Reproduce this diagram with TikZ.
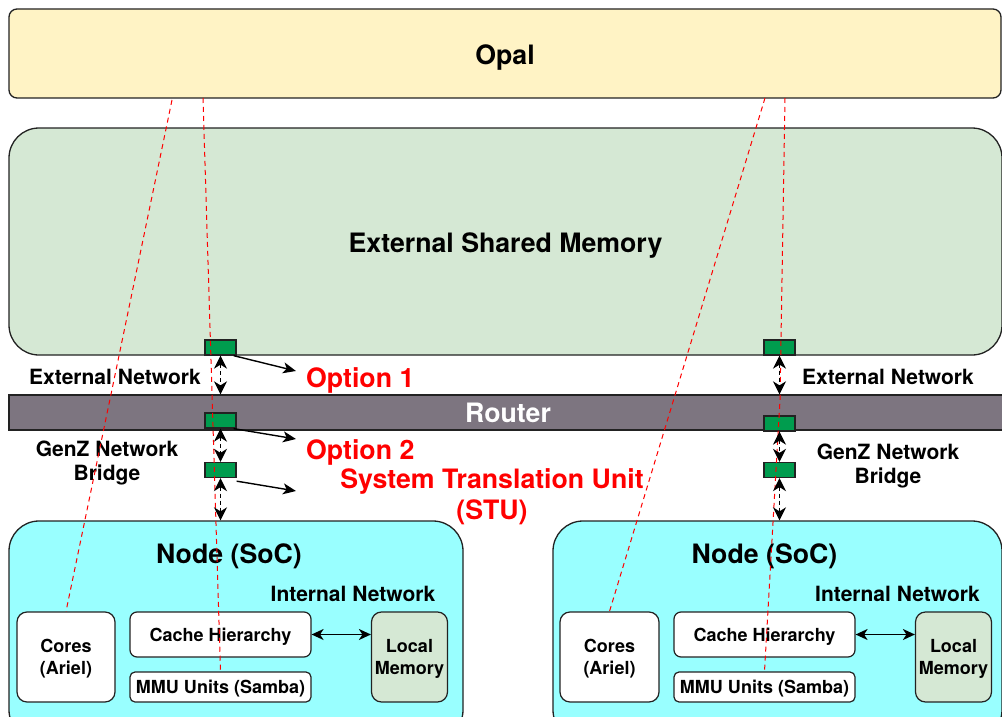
\documentclass[tikz,border=0pt]{standalone}
\usepackage{fontspec}
\setmainfont{TeX Gyre Heros}
\usetikzlibrary{arrows.meta}

\definecolor{opalfill}{HTML}{FFF3C5}
\definecolor{memfill}{HTML}{D5E8D4}
\definecolor{routerfill}{HTML}{7D7580}
\definecolor{portfill}{HTML}{009C4E}
\definecolor{nodefill}{HTML}{99FFFF}
\definecolor{edgegray}{HTML}{222222}

\newcommand\fntL{\fontsize{26.7}{31}\selectfont\bfseries}
\newcommand\fntM{\fontsize{21}{24}\selectfont\bfseries}
\newcommand\fntS{\fontsize{18}{22}\selectfont\bfseries}

\tikzset{
  panel/.style={draw=edgegray, line width=1.3pt, inner sep=0pt, text depth=0pt, font=\fntL},
  port/.style={draw=edgegray, line width=1.3pt, fill=portfill, inner sep=0pt,
    minimum width=31pt, minimum height=15pt},
  unit/.style={draw=edgegray, line width=1.2pt, fill=white, rounded corners=7pt,
    inner sep=0pt, text depth=0pt, align=center, font=\fntS},
  lbl/.style={inner sep=0pt, text depth=0pt, align=center, font=\fntM},
  title/.style={inner sep=0pt, text depth=0pt, font=\fntL},
  redlbl/.style={inner sep=0pt, text depth=0pt, align=center, font=\fntL, text=red},
  link/.style={black, line width=1.6pt, dash pattern=on 4pt off 3pt,
    {Stealth[length=13pt,width=13pt,inset=4pt]}-{Stealth[length=13pt,width=13pt,inset=4pt]}},
  pointer/.style={black, line width=1.4pt, -{Stealth[length=13pt,width=11pt,inset=3.5pt]}},
  busarrow/.style={black, line width=1.5pt,
    {Stealth[length=12pt,width=11pt,inset=3.5pt]}-{Stealth[length=12pt,width=11pt,inset=3.5pt]}},
  trace/.style={red, line width=1pt, dash pattern=on 5pt off 4pt},
}

\begin{document}
\begin{tikzpicture}[x=1pt, y=-1pt]
\useasboundingbox (0,0) rectangle (1002,717);
\clip (0,0) rectangle (1002,717);

% top-level blocks
\node[panel, fill=opalfill, rounded corners=8pt, minimum width=992pt, minimum height=89pt]
  (opal) at (505,53.5) {\raisebox{-2pt}{Opal}};
\node[panel, fill=memfill, rounded corners=30pt, minimum width=993pt, minimum height=227pt]
  (extmem) at (505.5,241.5) {\raisebox{-2.5pt}{External Shared Memory}};
\node[panel, fill=routerfill, text=white, minimum width=998pt, minimum height=35pt]
  (router) at (508,412.5) {\raisebox{-1pt}{Router}};

% the two SoC nodes
\node[panel, fill=nodefill, rounded corners=30pt, minimum width=454pt, minimum height=219pt]
  (nodeL) at (236,630.5) {};
\node[panel, fill=nodefill, rounded corners=30pt, minimum width=449pt, minimum height=219pt]
  (nodeR) at (777.5,630.5) {};
\node[title] (socL) at (229,554) {Node (SoC)};
\node[title] (socR) at (764.5,554) {Node (SoC)};
\node[lbl] (inetL) at (353,594) {Internal Network};
\node[lbl] (inetR) at (897.5,594) {Internal Network};

% units inside the left node
\node[unit, rounded corners=10pt, minimum width=98pt, minimum height=90pt]
  (coresL) at (66,657) {Cores\\(Ariel)};
\node[unit, minimum width=181pt, minimum height=45pt] (cacheL) at (220.5,634.5) {Cache Hierarchy};
\node[unit, rounded corners=5pt, minimum width=181pt, minimum height=30pt] (mmuL) at (220.5,687) {MMU Units (Samba)};
\node[unit, fill=memfill, rounded corners=10pt, minimum width=76pt, minimum height=90pt]
  (lmemL) at (409.5,657) {Local\\Memory};

% units inside the right node
\node[unit, rounded corners=10pt, minimum width=99pt, minimum height=90pt]
  (coresR) at (609.5,657) {Cores\\(Ariel)};
\node[unit, minimum width=181pt, minimum height=45pt] (cacheR) at (764.5,634.5) {Cache Hierarchy};
\node[unit, rounded corners=5pt, minimum width=181pt, minimum height=30pt] (mmuR) at (764.5,687) {MMU Units (Samba)};
\node[unit, fill=memfill, rounded corners=10pt, minimum width=76pt, minimum height=90pt]
  (lmemR) at (953.5,657) {Local\\Memory};

\draw[busarrow] (cacheL.east) -- (lmemL.west |- cacheL.east);
\draw[busarrow] (cacheR.east) -- (lmemR.west |- cacheR.east);

% network ports
\node[port] (extL) at (220.5,347.5) {};
\node[port] (rtrL) at (220.5,420.5) {};
\node[port] (brgL) at (220.5,470) {};
\node[port] (extR) at (779.5,347.5) {};
\node[port] (rtrR) at (779.5,423.5) {};
\node[port] (brgR) at (779.5,470) {};

% side labels
\node[lbl] (enL) at (115,377) {External Network};
\node[lbl] (enR) at (888,377) {External Network};
\node[lbl] (gzL) at (107,461) {GenZ Network\\Bridge};
\node[lbl] (gzR) at (888,464) {GenZ Network\\Bridge};

% placement options
\node[redlbl, anchor=west] (opt1) at (306,378) {Option 1};
\node[redlbl, anchor=west] (opt2) at (306,450) {Option 2};
\node[redlbl] (stu) at (492,494.5) {System Translation Unit\\(STU)};

\coordinate (p1) at (296,371);
\coordinate (p2) at (296,439);
\coordinate (p3) at (296,491);
\draw[pointer] ([xshift=-3pt]extL.south east) -- (p1);
\draw[pointer] ([xshift=-3pt]rtrL.south east) -- (p2);
\draw[pointer] ([yshift=-3pt]brgL.south east) -- (p3);

% simulator mapping traces from Opal
\coordinate (oL1) at (172,100);
\coordinate (oL2) at (203,98);
\coordinate (oR1) at (765,98);
\coordinate (oR2) at (785,98);
\coordinate (bendR) at (780,400);
\draw[trace] (oL1) -- (coresL.north);
\draw[trace] (oL2) -- (mmuL.north);
\draw[trace] (oR1) -- (coresR.north);
\draw[trace] (oR2) -- (bendR) -- (mmuR.north);

% links between ports
\draw[link] (extL.south) -- (extL.south |- router.north);
\draw[link] (rtrL.south) -- (brgL.north);
\draw[link] (brgL.south) -- (brgL.south |- nodeL.north);
\draw[link] (extR.south) -- (extR.south |- router.north);
\draw[link] (rtrR.south) -- (brgR.north);
\draw[link] (brgR.south) -- (brgR.south |- nodeR.north);
\end{tikzpicture}
\end{document}
